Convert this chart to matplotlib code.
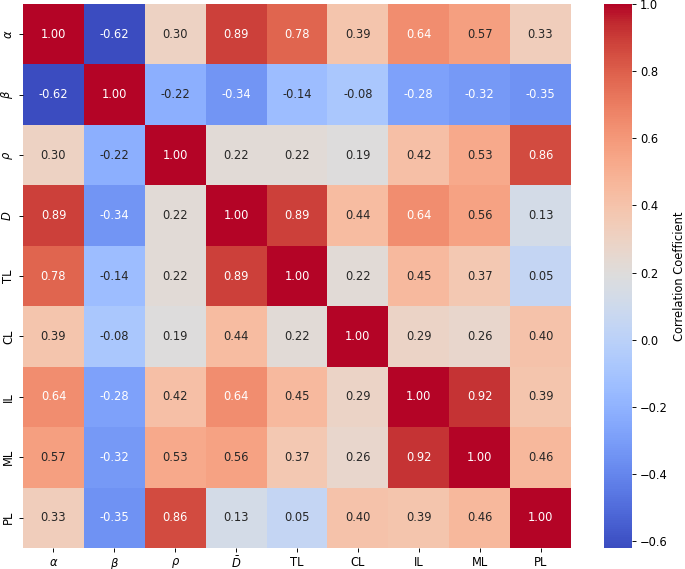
import matplotlib
matplotlib.use("Agg")
import matplotlib.pyplot as plt
import numpy as np
import seaborn as sns

labels = [r'$\alpha$', r'$\beta$', r'$\rho$', r'$\bar{D}$', 'TL', 'CL', 'IL', 'ML', 'PL']

corr = np.array([
    [1.00, -0.62, 0.30, 0.89, 0.78, 0.39, 0.64, 0.57, 0.33],
    [-0.62, 1.00, -0.22, -0.34, -0.14, -0.08, -0.28, -0.32, -0.35],
    [0.30, -0.22, 1.00, 0.22, 0.22, 0.19, 0.42, 0.53, 0.86],
    [0.89, -0.34, 0.22, 1.00, 0.89, 0.44, 0.64, 0.56, 0.13],
    [0.78, -0.14, 0.22, 0.89, 1.00, 0.22, 0.45, 0.37, 0.05],
    [0.39, -0.08, 0.19, 0.44, 0.22, 1.00, 0.29, 0.26, 0.40],
    [0.64, -0.28, 0.42, 0.64, 0.45, 0.29, 1.00, 0.92, 0.39],
    [0.57, -0.32, 0.53, 0.56, 0.37, 0.26, 0.92, 1.00, 0.46],
    [0.33, -0.35, 0.86, 0.13, 0.05, 0.40, 0.39, 0.46, 1.00],
])

dpi = 83
fig = plt.figure(figsize=(685 / dpi, 569 / dpi), dpi=dpi)
ax = fig.add_axes([23 / 685, 21 / 569, 548 / 685, 544 / 569])
cax = fig.add_axes([604 / 685, 21 / 569, 28 / 685, 544 / 569])

sns.heatmap(corr, annot=True, fmt='.2f', cmap='coolwarm',
            xticklabels=labels, yticklabels=labels,
            ax=ax, cbar_ax=cax,
            cbar_kws={'label': 'Correlation Coefficient'})

ax.tick_params(axis='x', rotation=0)
ax.tick_params(axis='y', rotation=90)
for t in ax.get_yticklabels():
    t.set_va('center')

fig.savefig('out.png', dpi=dpi)
